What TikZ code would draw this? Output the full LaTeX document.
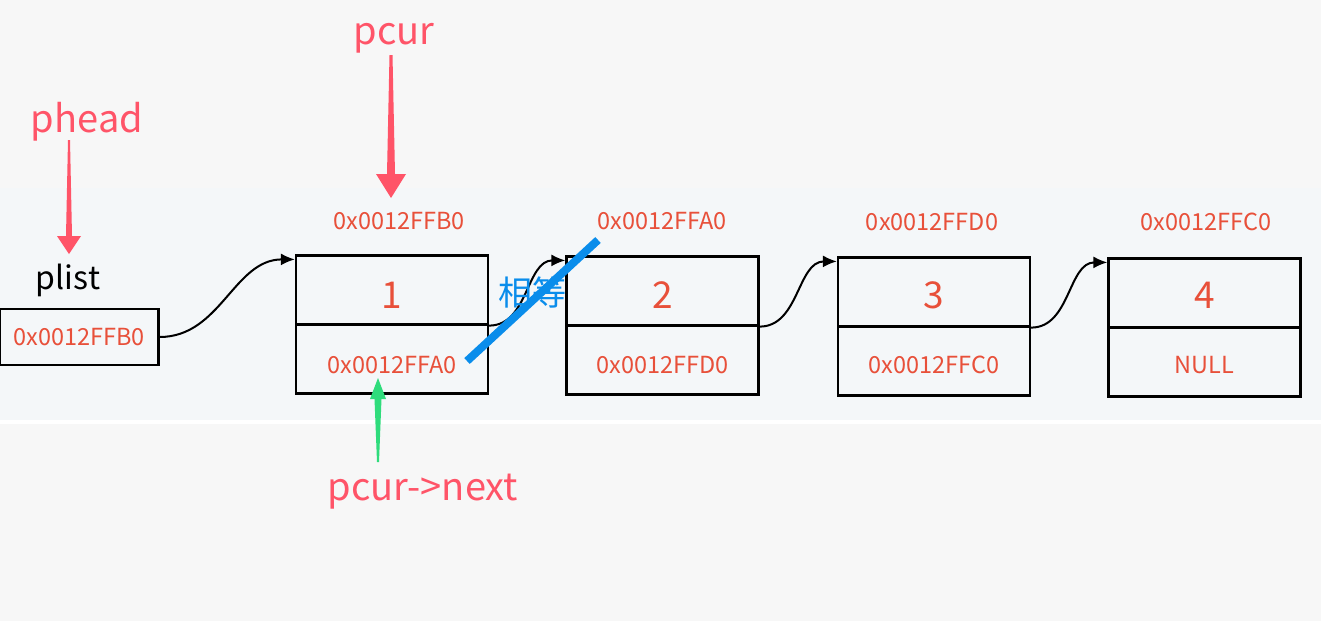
\documentclass[tikz,border=0pt]{standalone}
\usepackage{fontspec}
\setmainfont{Noto Sans CJK SC}
\usetikzlibrary{calc,arrows.meta}
\definecolor{bg}{HTML}{F7F7F7}
\definecolor{band}{HTML}{F4F7F9}
\definecolor{lab}{HTML}{FF5468}
\definecolor{addr}{HTML}{E8503A}
\definecolor{eqblue}{HTML}{0A8DEB}
\definecolor{grn}{HTML}{2FDC7C}
\begin{document}
\begin{tikzpicture}[x=1pt,y=-1pt,
  cell/.style={draw=black, line width=2.2pt, minimum width=192pt, minimum height=69pt, inner sep=0pt},
  val/.style={text=addr, font=\fontsize{37}{37}\selectfont, inner sep=0pt},
  hex/.style={text=addr, font=\fontsize{23.5}{23.5}\selectfont, inner sep=0pt},
  lbl/.style={text=lab, font=\fontsize{38}{38}\selectfont, inner sep=0pt},
  conn/.style={draw=black, line width=2pt, -{Latex[length=14pt,width=12pt]}}
  ]
\useasboundingbox (0,0) rectangle (1321,621);
\fill[bg] (0,0) rectangle (1321,621);
\fill[band] (0,188) rectangle (1321,420);
\fill[white] (0,420) rectangle (1321,424);

% plist
\node[draw=black, line width=2.2pt, minimum width=159pt, minimum height=56pt, inner sep=0pt] (plist) at (79,337) {};
\node[hex] (plisttxt) at (plist) {0x0012FFB0};
\node[inner sep=0pt, font=\fontsize{32}{32}\selectfont] (plistlbl) at (68,280) {plist};

% nodes
\node[cell] (n1a) at (392,290) {};
\node[cell] (n1b) at (392,359) {};
\node[cell] (n2a) at (662.5,291) {};
\node[cell] (n2b) at (662.5,360) {};
\node[cell] (n3a) at (934,292) {};
\node[cell] (n3b) at (934,361) {};
\node[cell] (n4a) at (1204.5,293) {};
\node[cell] (n4b) at (1204.5,362) {};

\node[val] (v1) at ($(n1a)+(0,5)$) {1};
\node[val] (v2) at ($(n2a)+(0,4)$) {2};
\node[val] (v3) at ($(n3a)+(0,3)$) {3};
\node[val] (v4) at ($(n4a)+(0,2)$) {4};

\node[hex] (p1) at ($(n1b)+(0,6)$) {0x0012FFA0};
\node[hex] (p2) at ($(n2b)+(0,5)$) {0x0012FFD0};
\node[hex] (p3) at ($(n3b)+(0,4)$) {0x0012FFC0};
\node[hex] (p4) at ($(n4b)+(0,3)$) {NULL};

\node[hex] (a1) at (399,221) {0x0012FFB0};
\node[hex] (a2) at (662,221) {0x0012FFA0};
\node[hex] (a3) at (932,222) {0x0012FFD0};
\node[hex] (a4) at (1206,222) {0x0012FFC0};

% connectors
\coordinate (in1) at ($(n1a.north west)+(0,5)$);
\coordinate (in2) at ($(n2a.north west)+(0,5)$);
\coordinate (in3) at ($(n3a.north west)+(0,5)$);
\coordinate (in4) at ($(n4a.north west)+(0,5)$);
\draw[conn] (plist.east) to[out=0,in=180] (in1);
\draw[conn] (n1a.south east) to[out=0,in=180] (in2);
\draw[conn] (n2a.south east) to[out=0,in=180] (in3);
\draw[conn] (n3a.south east) to[out=0,in=180] (in4);

% equality mark
\coordinate (eqa) at (467,361);
\coordinate (eqb) at (598,240);
\draw[eqblue, line width=8pt] (eqa) -- (eqb);
\node[inner sep=0pt, text=eqblue, font=\fontsize{34}{34}\selectfont] (eq) at (532,292) {相等};

% labels
\node[lbl] (phead) at (87,122) {phead};
\node[lbl] (pcur) at (394,38) {pcur};
\node[lbl] (pnext) at (423,492) {pcur-{}>next};

% tapered arrows
\coordinate (pheadtip) at (69,254);
\fill[lab] ($(pheadtip)+(-1,-114)$) -- ($(pheadtip)+(1,-114)$) -- ($(pheadtip)+(3,-18)$) -- ($(pheadtip)+(12,-18)$)
  -- (pheadtip) -- ($(pheadtip)+(-12,-18)$) -- ($(pheadtip)+(-3,-18)$) -- cycle;
\coordinate (pcurtip) at (391,198);
\fill[lab] ($(pcurtip)+(-1.5,-143)$) -- ($(pcurtip)+(1.5,-143)$) -- ($(pcurtip)+(4,-24)$) -- ($(pcurtip)+(15,-24)$)
  -- (pcurtip) -- ($(pcurtip)+(-15,-24)$) -- ($(pcurtip)+(-4,-24)$) -- cycle;
\coordinate (nexttip) at (378,378);
\fill[grn] ($(nexttip)+(-1,84)$) -- ($(nexttip)+(1,84)$) -- ($(nexttip)+(3.5,21)$) -- ($(nexttip)+(8,21)$)
  -- (nexttip) -- ($(nexttip)+(-8,21)$) -- ($(nexttip)+(-3.5,21)$) -- cycle;
\end{tikzpicture}
\end{document}
